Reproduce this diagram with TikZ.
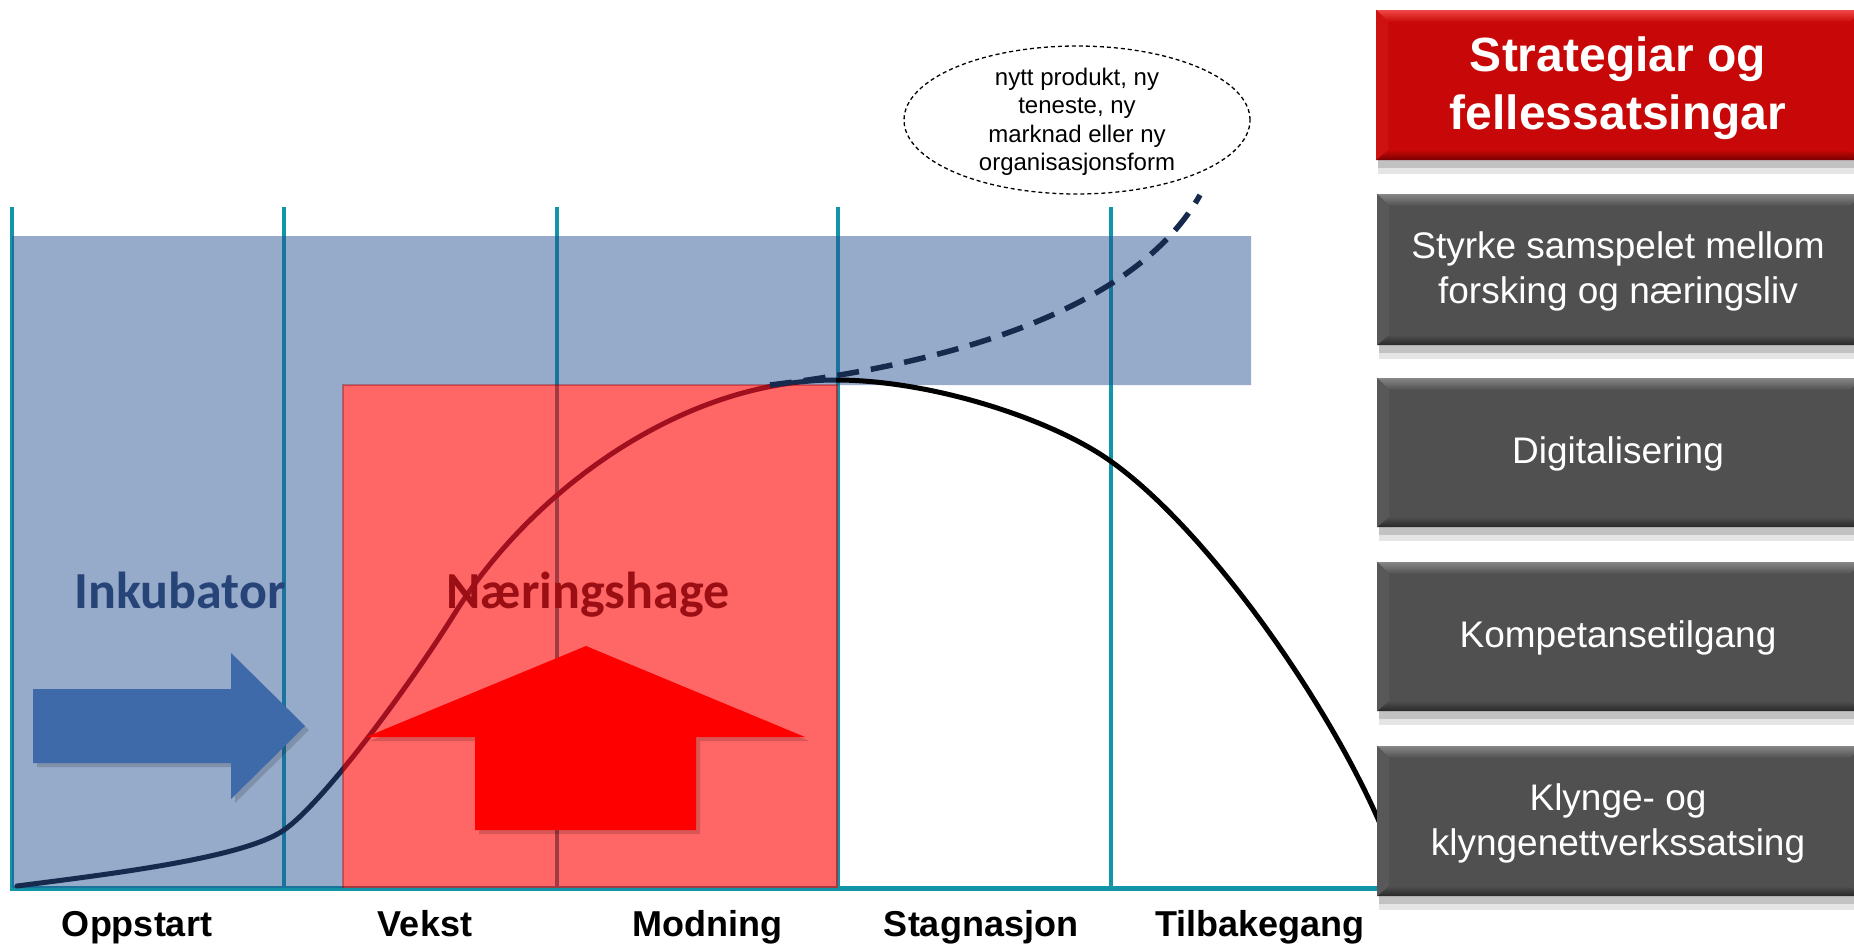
\documentclass[tikz,border=0pt]{standalone}
\usepackage{fontspec}
\setmainfont{Liberation Sans}
\newfontfamily\calibrifont{Carlito}
\definecolor{tealline}{RGB}{18,149,168}
\definecolor{bluefill}{RGB}{36,78,145}
\definecolor{navycurve}{RGB}{22,42,78}
\definecolor{inkblue}{RGB}{38,68,120}
\definecolor{hagered}{RGB}{155,15,20}
\definecolor{arrowblue}{RGB}{63,106,170}
\definecolor{rbase}{RGB}{200,8,8}
\definecolor{rlight}{RGB}{240,70,70}
\definecolor{rdark}{RGB}{120,0,0}
\definecolor{gbase}{RGB}{80,80,80}
\definecolor{glight}{RGB}{135,135,135}
\definecolor{gdark}{RGB}{40,40,40}
\tikzset{
  tealstroke/.style={draw=tealline, line width=4pt},
  boxtext/.style={text=white, align=center, inner sep=0pt, font=\fontsize{37}{45}\selectfont},
  stagetext/.style={anchor=base, inner sep=0pt, font=\fontsize{36}{40}\selectfont\bfseries},
  bigword/.style={anchor=base, inner sep=0pt, font=\fontsize{52}{60}\selectfont\calibrifont\bfseries},
}
% #1 x1, #2 y1, #3 x2, #4 y2, #5 base, #6 light, #7 dark
\newcommand\mybevelbox[7]{%
  \fill[black, opacity=0.10] (#1+2,#2+6) rectangle (#3+2,#4+14);
  \fill[black, opacity=0.15] (#1+2,#2+4) rectangle (#3+2,#4+8);
  \fill[#5] (#1,#2) rectangle (#3,#4);
  \shade[top color=#6, bottom color=#5] (#1,#2) -- (#3,#2) -- (#3-12,#2+12) -- (#1+12,#2+12) -- cycle;
  \shade[top color=#5, bottom color=#7] (#1,#4) -- (#3,#4) -- (#3-12,#4-10) -- (#1+12,#4-10) -- cycle;
  \fill[#5!85!#6] (#1,#2) -- (#1+12,#2+12) -- (#1+12,#4-10) -- (#1,#4) -- cycle;
}
\begin{document}
\begin{tikzpicture}[x=1pt, y=-1pt]
\useasboundingbox[fill=white] (0,0) rectangle (1854,946);

% stage lines and axis
\draw[tealstroke] (12,207) -- (12,888);
\draw[tealstroke] (284,207) -- (284,888);
\draw[tealstroke] (557,207) -- (557,888);
\draw[tealstroke] (838,207) -- (838,888);
\draw[tealstroke] (1111,207) -- (1111,888);
\draw[draw=tealline, line width=5pt] (10,888) -- (1385,888);

% blue incubator area
\fill[bluefill, fill opacity=0.48] (12,236) -- (1251,236) -- (1251,385) -- (343,385) -- (343,888) -- (12,888) -- cycle;

% rising part of life curve
\begin{scope}
\clip (0,0) rectangle (836,946);
\draw[navycurve, line width=5pt, line cap=round] (17,886) .. controls (110,874) and (244,858) .. (284,830) .. controls (324,802) and (410,685) .. (455,613) .. controls (530,493) and (680,380) .. (836,380) .. controls (930,380) and (1049,418) .. (1109,460) .. controls (1209,530) and (1336,713) .. (1386,838);
\end{scope}

% red area
\fill[red, fill opacity=0.6] (343,385) rectangle (838,888);
\draw[red!60!black, draw opacity=0.35, line width=1.5pt] (343,888) -- (343,385) -- (838,385);

% falling part of life curve
\begin{scope}
\clip (836,0) rectangle (1400,946);
\draw[black, line width=5pt] (17,886) .. controls (110,874) and (244,858) .. (284,830) .. controls (324,802) and (410,685) .. (455,613) .. controls (530,493) and (680,380) .. (836,380) .. controls (930,380) and (1049,418) .. (1109,460) .. controls (1209,530) and (1336,713) .. (1386,838);
\end{scope}

% renewal (dashed)
\draw[navycurve, line width=5.5pt, dash pattern=on 22pt off 12pt] (770,385) .. controls (920,367) and (1130,320) .. (1200,195);

% big words
\node[bigword, text=inkblue] (inkubator) at (180,608) {Inkubator};
\node[bigword, text=hagered] (hage) at (588,608) {Næringshage};

% blue arrow
\fill[black, opacity=0.15] (37,693) -- (235,693) -- (235,657) -- (309,730) -- (235,803) -- (235,767) -- (37,767) -- cycle;
\fill[arrowblue] (33,689) -- (231,689) -- (231,653) -- (305,726) -- (231,799) -- (231,763) -- (33,763) -- cycle;

% red arrow
\fill[black, opacity=0.15] (479,834) -- (479,741) -- (370,741) -- (590,650) -- (809,741) -- (700,741) -- (700,834) -- cycle;
\fill[red] (475,830) -- (475,737) -- (366,737) -- (586,646) -- (805,737) -- (696,737) -- (696,830) -- cycle;

% speech ellipse
\draw[black, line width=1.3pt, dash pattern=on 4pt off 3pt] (1077,120) ellipse [x radius=173pt, y radius=74pt];
\node[align=center, inner sep=0pt, font=\fontsize{24}{28.5}\selectfont] (bubble) at (1077,122) {nytt produkt, ny\\teneste, ny\\marknad eller ny\\organisasjonsform};

% right hand boxes
\mybevelbox{1376}{10}{1862}{160}{rbase}{rlight}{rdark}
\node[text=white, align=center, inner sep=0pt, font=\fontsize{48}{58}\selectfont\bfseries] (strat) at (1618,88) {Strategiar og\\fellessatsingar};

\mybevelbox{1377}{194}{1862}{345}{gbase}{glight}{gdark}
\node[boxtext] (samspel) at (1618,271) {Styrke samspelet mellom\\forsking og næringsliv};

\mybevelbox{1377}{378}{1862}{527}{gbase}{glight}{gdark}
\node[boxtext] (digital) at (1618,454) {Digitalisering};

\mybevelbox{1377}{562}{1862}{711}{gbase}{glight}{gdark}
\node[boxtext] (kompetanse) at (1618,638) {Kompetansetilgang};

\mybevelbox{1377}{746}{1862}{896}{gbase}{glight}{gdark}
\node[boxtext] (klynge) at (1618,823) {Klynge- og\\klyngenettverkssatsing};

% stage labels
\node[stagetext] (oppstart) at (137,936) {Oppstart};
\node[stagetext] (vekst) at (425,936) {Vekst};
\node[stagetext] (modning) at (707,936) {Modning};
\node[stagetext] (stagnasjon) at (981,936) {Stagnasjon};
\node[stagetext] (tilbake) at (1260,936) {Tilbakegang};
\end{tikzpicture}
\end{document}
